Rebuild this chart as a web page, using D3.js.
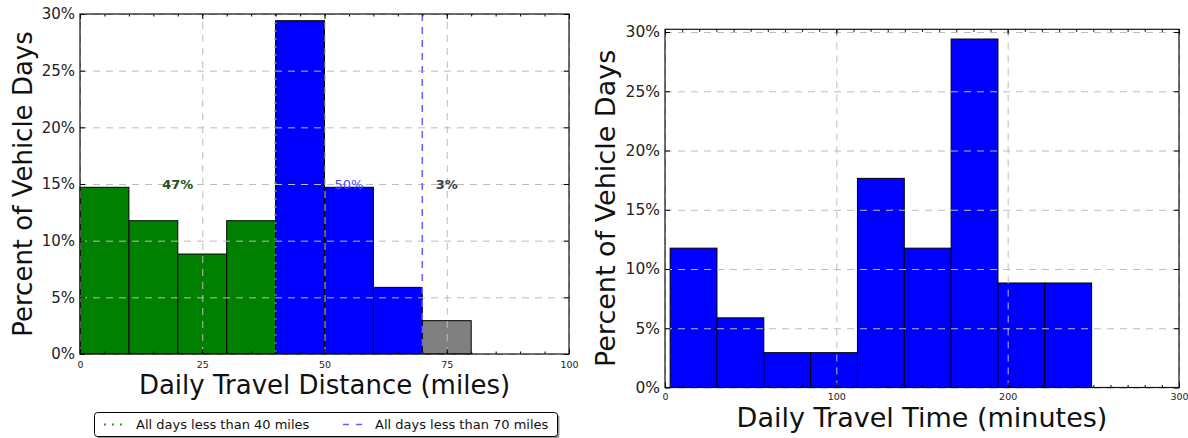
<!DOCTYPE html>
<html>
<head>
<meta charset="utf-8">
<script src="https://cdn.jsdelivr.net/npm/d3@7"></script>
<style>
  html, body { margin: 0; padding: 0; background: #fff; }
  svg { display: block; font-family: "DejaVu Sans", sans-serif; }
</style>
</head>
<body>
<svg id="chart" width="1188" height="438"></svg>
<script>
// ---- Daily travel distance histogram (miles) ----
const distEdges = [0, 10, 20, 30, 40, 50, 60, 70, 80];
const distPct   = [14.71, 11.76, 8.82, 11.76, 29.41, 14.71, 5.88, 2.94];
const distGroup = [0, 0, 0, 0, 1, 1, 1, 2];           // 0: < 40 mi, 1: 40-70 mi, 2: > 70 mi
const distTicks = [0, 25, 50, 75, 100];
const distMinor = d3.range(0, 101, 5);

// ---- Daily travel time histogram (minutes) ----
const timeEdges = [3, 30.33, 57.67, 85, 112.33, 139.67, 167, 194.33, 221.67, 249];
const timePct   = [11.76, 5.88, 2.94, 2.94, 17.65, 11.76, 29.41, 8.82, 8.82];
const timeTicks = [0, 100, 200, 300];
const timeMinor = d3.range(0, 301, 10);

const pctTicks = [0, 5, 10, 15, 20, 25, 30];

// range thresholds and their legend entries
const thresholds   = [40, 70];
const legendLabels = ["All days less than 40 miles", "All days less than 70 miles"];

const groupFill = ["#008000", "#0000ff", "#808080"];
const groupText = ["#1d521d", "#4a4aff", "#3d3d3d"];
const groupWeight = ["bold", "normal", "bold"];

const svg = d3.select("#chart");

function drawPanel(p) {
  const g = svg.append("g");
  const x = d3.scaleLinear().domain(p.xDomain).range([p.left, p.right]);
  const y = d3.scaleLinear().domain(p.yDomain).range([p.bottom, p.top]);
  const h = p.bottom - p.top;
  const w = p.right - p.left;

  const bins = p.values.map((v, i) => ({ x0: p.edges[i], x1: p.edges[i + 1], v, fill: p.fill(i) }));

  // bars
  g.selectAll("rect.bar").data(bins).join("rect")
    .attr("class", "bar")
    .attr("x", d => x(d.x0))
    .attr("width", d => x(d.x1) - x(d.x0))
    .attr("y", d => y(d.v))
    .attr("height", d => y(0) - y(d.v))
    .attr("fill", d => d.fill)
    .attr("stroke", "#000")
    .attr("stroke-width", 1);

  // dashed grid drawn over the bars
  const gridX = g.append("g").attr("transform", `translate(0,${p.bottom})`)
    .call(d3.axisBottom(x).tickValues(p.xTicks).tickSize(-h).tickFormat(""));
  const gridY = g.append("g").attr("transform", `translate(${p.left},0)`)
    .call(d3.axisLeft(y).tickValues(pctTicks).tickSize(-w).tickFormat(""));
  [gridX, gridY].forEach(s => {
    s.select(".domain").remove();
    s.selectAll("line").attr("stroke", "#bcbcbc").attr("stroke-width", 1).attr("stroke-dasharray", "7,6");
  });

  if (p.extra) p.extra(g, x, y);

  // inward tick marks on all four sides
  const tickGroups = [
    g.append("g").attr("transform", `translate(0,${p.bottom})`).call(d3.axisBottom(x).tickValues(p.xMinor).tickSizeInner(-2.5).tickSizeOuter(0).tickFormat("")),
    g.append("g").attr("transform", `translate(0,${p.top})`).call(d3.axisTop(x).tickValues(p.xMinor).tickSizeInner(-2.5).tickSizeOuter(0).tickFormat("")),
    g.append("g").attr("transform", `translate(0,${p.bottom})`).call(d3.axisBottom(x).tickValues(p.xTicks).tickSizeInner(-5).tickSizeOuter(0).tickFormat("")),
    g.append("g").attr("transform", `translate(0,${p.top})`).call(d3.axisTop(x).tickValues(p.xTicks).tickSizeInner(-5).tickSizeOuter(0).tickFormat("")),
    g.append("g").attr("transform", `translate(${p.left},0)`).call(d3.axisLeft(y).tickValues(pctTicks).tickSizeInner(-5).tickSizeOuter(0).tickFormat("")),
    g.append("g").attr("transform", `translate(${p.right},0)`).call(d3.axisRight(y).tickValues(pctTicks).tickSizeInner(-5).tickSizeOuter(0).tickFormat(""))
  ];
  tickGroups.forEach(s => {
    s.select(".domain").remove();
    s.selectAll("line").attr("stroke", "#000").attr("stroke-width", 1);
  });

  // frame
  g.append("rect")
    .attr("x", p.left).attr("y", p.top).attr("width", w).attr("height", h)
    .attr("fill", "none").attr("stroke", "#111").attr("stroke-width", 1.2);

  // tick labels
  const xl = g.append("g").attr("transform", `translate(0,${p.bottom})`)
    .call(d3.axisBottom(x).tickValues(p.xTicks).tickSize(0).tickPadding(p.xPad).tickFormat(d3.format("d")));
  xl.select(".domain").remove();
  xl.selectAll("text").attr("font-size", p.xTickFont).attr("fill", "#222").attr("font-family", "DejaVu Sans");

  const yl = g.append("g").attr("transform", `translate(${p.left},0)`)
    .call(d3.axisLeft(y).tickValues(pctTicks).tickSize(0).tickPadding(5).tickFormat(d => d + "%"));
  yl.select(".domain").remove();
  yl.selectAll("text").attr("font-size", p.yTickFont).attr("fill", "#222").attr("font-family", "DejaVu Sans");

  // axis titles
  g.append("text")
    .attr("transform", `translate(${p.yTitleX},${(p.top + p.bottom) / 2}) rotate(-90)`)
    .attr("text-anchor", "middle")
    .attr("font-size", p.titleFont)
    .attr("fill", "#111")
    .text("Percent of Vehicle Days");
  g.append("text")
    .attr("x", (p.left + p.right) / 2)
    .attr("y", p.xTitleY)
    .attr("text-anchor", "middle")
    .attr("font-size", p.titleFont)
    .attr("fill", "#111")
    .text(p.xTitle);
}

// distance panel
drawPanel({
  left: 80, right: 569, top: 14, bottom: 354,
  xDomain: [0, 100], yDomain: [0, 30],
  edges: distEdges, values: distPct,
  fill: i => groupFill[distGroup[i]],
  xTicks: distTicks, xMinor: distMinor,
  xPad: 7, xTickFont: 9.5, yTickFont: 15,
  titleFont: 26, yTitleX: 32, xTitleY: 394,
  xTitle: "Daily Travel Distance (miles)",
  extra: (g, x, y) => {
    // threshold markers
    g.append("line")
      .attr("x1", x(thresholds[0])).attr("x2", x(thresholds[0]))
      .attr("y1", y(30)).attr("y2", y(0))
      .attr("stroke", "#2e9a2e").attr("stroke-width", 2).attr("stroke-dasharray", "2,6");
    g.append("line")
      .attr("x1", x(thresholds[1])).attr("x2", x(thresholds[1]))
      .attr("y1", y(30)).attr("y2", y(0))
      .attr("stroke", "#6060ff").attr("stroke-width", 1.5).attr("stroke-dasharray", "7,6");

    // share of vehicle days in each distance range
    const groups = d3.groups(distPct.map((v, i) => ({ v, gi: distGroup[i], x0: distEdges[i], x1: distEdges[i + 1] })), d => d.gi);
    const labelLevel = 15;
    groups.forEach(([gi, items]) => {
      const share = d3.sum(items, d => d.v);
      const cx = (d3.min(items, d => d.x0) + d3.max(items, d => d.x1)) / 2;
      g.append("text")
        .attr("x", x(cx)).attr("y", y(labelLevel))
        .attr("dy", "0.36em")
        .attr("text-anchor", "middle")
        .attr("font-size", 13)
        .attr("font-weight", groupWeight[gi])
        .attr("fill", groupText[gi])
        .text(Math.round(share) + "%");
    });
  }
});

// time panel
drawPanel({
  left: 665, right: 1179, top: 29.3, bottom: 387.5,
  xDomain: [0, 300], yDomain: [0, 30.23],
  edges: timeEdges, values: timePct,
  fill: () => "#0000ff",
  xTicks: timeTicks, xMinor: timeMinor,
  xPad: 6, xTickFont: 9.5, yTickFont: 15.5,
  titleFont: 27, yTitleX: 615, xTitleY: 427,
  xTitle: "Daily Travel Time (minutes)"
});

// legend
const leg = svg.append("g");
leg.append("rect")
  .attr("x", 96.5).attr("y", 414.5).attr("width", 463).attr("height", 24).attr("rx", 3)
  .attr("fill", "#9a9a9a");
leg.append("rect")
  .attr("x", 94.5).attr("y", 412.5).attr("width", 463).attr("height", 24).attr("rx", 3)
  .attr("fill", "#fff").attr("stroke", "#000").attr("stroke-width", 1);
const legItems = [
  { x: 104, text: legendLabels[0], color: "#2e9a2e", width: 2, dash: "2,6" },
  { x: 343, text: legendLabels[1], color: "#6060ff", width: 1.5, dash: "6,7" }
];
legItems.forEach(d => {
  leg.append("line")
    .attr("x1", d.x).attr("x2", d.x + 20).attr("y1", 424.5).attr("y2", 424.5)
    .attr("stroke", d.color).attr("stroke-width", d.width).attr("stroke-dasharray", d.dash);
  leg.append("text")
    .attr("x", d.x + 32).attr("y", 429)
    .attr("font-size", 13).attr("fill", "#111")
    .text(d.text);
});
</script>
</body>
</html>
